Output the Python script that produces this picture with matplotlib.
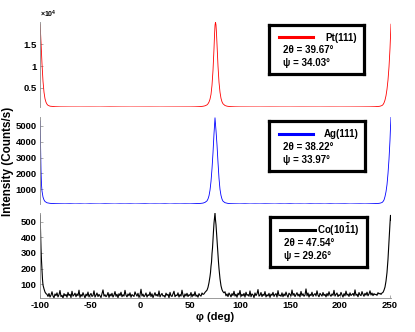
import numpy as np
import matplotlib
matplotlib.use('Agg')
import matplotlib.pyplot as plt
from matplotlib.lines import Line2D

plt.rcParams['font.family'] = ['Liberation Sans', 'DejaVu Sans']
plt.rcParams['font.weight'] = 'bold'
plt.rcParams['axes.unicode_minus'] = False
plt.rcParams['mathtext.fontset'] = 'custom'
plt.rcParams['mathtext.rm'] = 'Liberation Sans:bold'
plt.rcParams['mathtext.bf'] = 'Liberation Sans:bold'
plt.rcParams['mathtext.it'] = 'Liberation Sans:bold'

# ---------------- data ----------------
pt_phi = [-100, -99.5, -99, -98, -97, -96, -95, -94, -93, -92, -90, -85, -80, -70, -60,
          -50, -40, -30, -20, -10, 0, 10, 20, 30, 40, 50, 55, 60, 63, 65, 67, 68, 69,
          70, 71, 72, 73, 74, 74.5, 75, 75.5, 76, 76.5, 77, 78, 79, 80, 81, 82, 83, 85,
          87, 90, 95, 100, 110, 120, 130, 140, 150, 160, 170, 180, 190, 200, 210, 220,
          230, 235, 238, 240, 242, 243, 244, 245, 246, 247, 248, 249, 250, 250.5, 251]
pt_counts = [19500, 17800, 15500, 10500, 6500, 4000, 2500, 1700, 1250, 1000, 800, 680, 640, 620, 615,
             620, 610, 640, 620, 610, 615, 620, 610, 620, 625, 630, 650, 700, 780, 880, 1100, 1350, 1750,
             2400, 3500, 5600, 9000, 14000, 17000, 19300, 20100, 19400, 17500, 15000, 10000, 6300, 4000, 2600, 1800, 1350, 950,
             800, 700, 650, 630, 620, 615, 625, 615, 610, 620, 615, 610, 620, 615, 620, 630,
             650, 680, 730, 790, 950, 1150, 1550, 2200, 3200, 4700, 6800, 9800, 14000, 16800, 19600]

ag_phi = [-100, -99.5, -99, -98.5, -98, -97, -96, -95, -93,
          -90, -85, -80, -75, -70, -65, -60, -55, -50, -45, -40, -35, -30, -25, -20, -15,
          -10, -5, 0, 5, 10, 15, 20, 25, 30, 35, 40, 45, 50, 55, 60,
          63, 65, 67, 68, 69, 70, 71, 72, 73, 73.5, 74, 74.5, 75, 75.5, 76, 77, 78, 79,
          80, 81, 82, 83, 85, 88,
          90, 95, 100, 105, 110, 115, 120, 125, 130, 135, 140, 145, 150, 155, 160, 165,
          170, 175, 180, 185, 190, 195, 200, 205, 210, 215, 220, 225, 230, 235,
          238, 240, 242, 243, 244, 245, 246, 247, 248, 249, 250, 250.5, 251]
ag_counts = [5300, 4000, 2200, 1300, 900, 520, 340, 240, 160,
             125, 105, 98, 92, 100, 88, 95, 84, 97, 90, 86, 99, 91, 83, 94, 89,
             96, 85, 92, 100, 87, 93, 88, 98, 84, 95, 90, 97, 92, 105, 118,
             140, 185, 280, 400, 600, 950, 1500, 2300, 3300, 3900, 4500, 5000, 5500, 5100, 4700, 3800, 2700, 1700,
             1000, 620, 390, 260, 165, 120,
             105, 96, 90, 99, 86, 93, 88, 97, 91, 84, 95, 89, 100, 87, 92, 85,
             98, 90, 94, 86, 99, 88, 93, 97, 85, 91, 96, 89, 98, 108,
             118, 135, 175, 235, 335, 550, 850, 1300, 2000, 2900, 4100, 4900, 5550]

co_edge_left_phi = [-100, -99.5, -99, -98.5, -98, -97.5, -97, -96, -95, -94]
co_edge_left = [540, 450, 330, 250, 190, 130, 95, 70, 50, 40]
co_base1_phi = np.arange(-93, 65)  # 1-degree sampling
co_base1 = [35, 22, 41, 18, 30, 52, 25, 14, 38, 27,
            45, 19, 33, 60, 21, 29, 12, 40, 26, 35,
            17, 48, 28, 36, 15, 55, 24, 31, 43, 20,
            38, 27, 62, 16, 34, 23, 46, 29, 13, 37,
            25, 50, 19, 32, 41, 22, 28, 58, 18, 30,
            44, 21, 35, 26, 15, 39, 64, 24, 33, 20,
            29, 47, 16, 37, 25, 42, 18, 31, 53, 23,
            36, 14, 40, 27, 49, 20, 33, 24, 61, 30,
            19, 38, 26, 45, 17, 34, 28, 22, 51, 35,
            24, 42, 16, 31, 68, 25, 37, 20, 29, 44,
            18, 33, 27, 50, 21, 39, 15, 30, 46, 26,
            35, 23, 57, 19, 32, 41, 24, 28, 17, 43,
            29, 36, 14, 48, 26, 22, 39, 55, 20, 31,
            27, 45, 18, 34, 24, 62, 30, 16, 38, 25,
            42, 21, 33, 28, 47, 19, 36, 26, 52, 23,
            31, 17, 40, 29, 24, 44, 35, 38]
co_peak_phi = [65, 66, 67, 68, 69, 70, 70.5, 71, 71.5, 72, 72.5, 73, 73.5, 74, 74.5, 75, 75.5,
               76, 76.5, 77, 77.5, 78, 78.5, 79, 80, 81, 82, 83, 84]
co_peak = [48, 55, 62, 80, 110, 150, 175, 215, 240, 295, 330, 390, 440, 490, 520, 555, 510,
           480, 430, 385, 330, 290, 240, 200, 135, 90, 65, 52, 45]
co_base2_phi = np.arange(85, 243)  # 1-degree sampling
co_base2 = [52, 26, 38, 21, 44, 33, 19, 40,
            28, 55, 24, 36, 17, 43, 31, 60, 22, 35,
            26, 41, 18, 49, 29, 34, 23, 57, 20, 38,
            32, 15, 44, 27, 39, 66, 24, 30, 47, 21,
            36, 28, 53, 19, 33, 25, 42, 16, 37, 29,
            48, 22, 34, 40, 18, 59, 27, 31, 23, 45,
            20, 38, 26, 50, 30, 17, 43, 35, 24, 63,
            29, 41, 21, 33, 46, 25, 37, 19, 54, 28,
            39, 23, 31, 70, 26, 44, 18, 36, 27, 49,
            22, 34, 40, 25, 58, 30, 20, 42, 33, 24,
            47, 28, 36, 19, 41, 26, 52, 31, 23, 38,
            29, 61, 24, 35, 44, 21, 33, 27, 48, 32,
            18, 40, 26, 56, 30, 37, 22, 45, 28, 34,
            41, 25, 64, 29, 36, 20, 47, 32, 27, 53,
            35, 23, 42, 30, 49, 26, 38, 58, 31, 44,
            27, 40, 33, 36, 29, 46, 38, 42, 35, 44]
co_edge_right_phi = [243, 244, 245, 246, 247, 248, 248.5, 249, 249.5, 250, 250.5, 251]
co_edge_right = [48, 62, 82, 120, 175, 260, 320, 380, 440, 490, 540, 510]

co_phi = np.concatenate([co_edge_left_phi, co_base1_phi, co_peak_phi, co_base2_phi, co_edge_right_phi])
co_counts = np.concatenate([co_edge_left, co_base1, co_peak, co_base2, co_edge_right])

x_ticks = [-100, -50, 0, 50, 100, 150, 200, 250]
pt_yticks = [5000, 10000, 15000]
pt_yticklabels = ['0.5', '1', '1.5']
ag_yticks = [1000, 2000, 3000, 4000, 5000]
co_yticks = [100, 200, 300, 400, 500]

legends = [
    ('Pt(111)', '2θ = 39.67°', 'ψ = 34.03°', 'red'),
    ('Ag(111)', '2θ = 38.22°', 'ψ = 33.97°', 'blue'),
    ('Co(10$\\mathrm{\\bar{1}}$1)', '2θ = 47.54°', 'ψ = 29.26°', 'black'),
]

# ---------------- figure ----------------
fig = plt.figure(figsize=(4.15, 3.32), dpi=100)
L, W = 40 / 415, 351 / 415
ax_pt = fig.add_axes([L, (332 - 107) / 332, W, 85 / 332])
ax_ag = fig.add_axes([L, (332 - 204) / 332, W, 87 / 332])
ax_co = fig.add_axes([L, (332 - 298) / 332, W, 85 / 332])

gray = '#8a8a8a'
ax_pt.plot(pt_phi, pt_counts, color='red', lw=0.6)
ax_ag.plot(ag_phi, ag_counts, color='blue', lw=0.6)
ax_co.plot(co_phi, co_counts, color='black', lw=0.8)

for ax in (ax_pt, ax_ag, ax_co):
    ax.margins(x=0, y=0)
    ax.set_xlim(-100, 251)
    for s in ('top', 'right'):
        ax.spines[s].set_visible(False)
    ax.spines['left'].set_color(gray)
    ax.spines['left'].set_linewidth(0.6)
    ax.spines['bottom'].set_color(gray)
    ax.spines['bottom'].set_linewidth(0.6)
    ax.tick_params(axis='both', direction='in', length=2.5, width=0.5, color=gray,
                   labelsize=6.8, pad=2.5)

for ax in (ax_pt, ax_ag):
    ax.spines['bottom'].set_visible(False)
    ax.set_xticks([])

ax_pt.set_yticks(pt_yticks)
ax_pt.set_yticklabels(pt_yticklabels)
ax_ag.set_yticks(ag_yticks)
ax_co.set_yticks(co_yticks)
ax_co.set_xticks(x_ticks)
ax_co.set_xlabel('φ (deg)', fontsize=8, fontweight='bold', labelpad=1)

fig.text(40 / 415, (332 - 14) / 332, '×10$^4$', fontsize=5, ha='left', va='center')
fig.text(8 / 415, 0.515, 'Intensity (Counts/s)', rotation=90, ha='center', va='center',
         fontsize=8.4, fontweight='bold')

# legend boxes
boxes = [
    [269 / 415, (332 - 74) / 332, 95 / 415, 49 / 332],
    [269 / 415, (332 - 171) / 332, 96 / 415, 50 / 332],
    [270 / 415, (332 - 267) / 332, 97 / 415, 50 / 332],
]
for rect, (name, tt, psi, col) in zip(boxes, legends):
    lb = fig.add_axes(rect)
    lb.set_xlim(0, 1)
    lb.set_ylim(0, 1)
    lb.set_xticks([])
    lb.set_yticks([])
    for s in lb.spines.values():
        s.set_linewidth(2.3)
        s.set_color('black')
    lb.add_line(Line2D([0.105, 0.463], [0.745, 0.745], color=col, lw=2.2,
                       transform=lb.transAxes))
    lb.text(0.93, 0.74, name, ha='right', va='center', fontsize=7, fontweight='bold')
    lb.text(0.145, 0.48, tt, ha='left', va='center', fontsize=7, fontweight='bold')
    lb.text(0.145, 0.22, psi, ha='left', va='center', fontsize=7, fontweight='bold')

fig.savefig('out.png', dpi=100)
